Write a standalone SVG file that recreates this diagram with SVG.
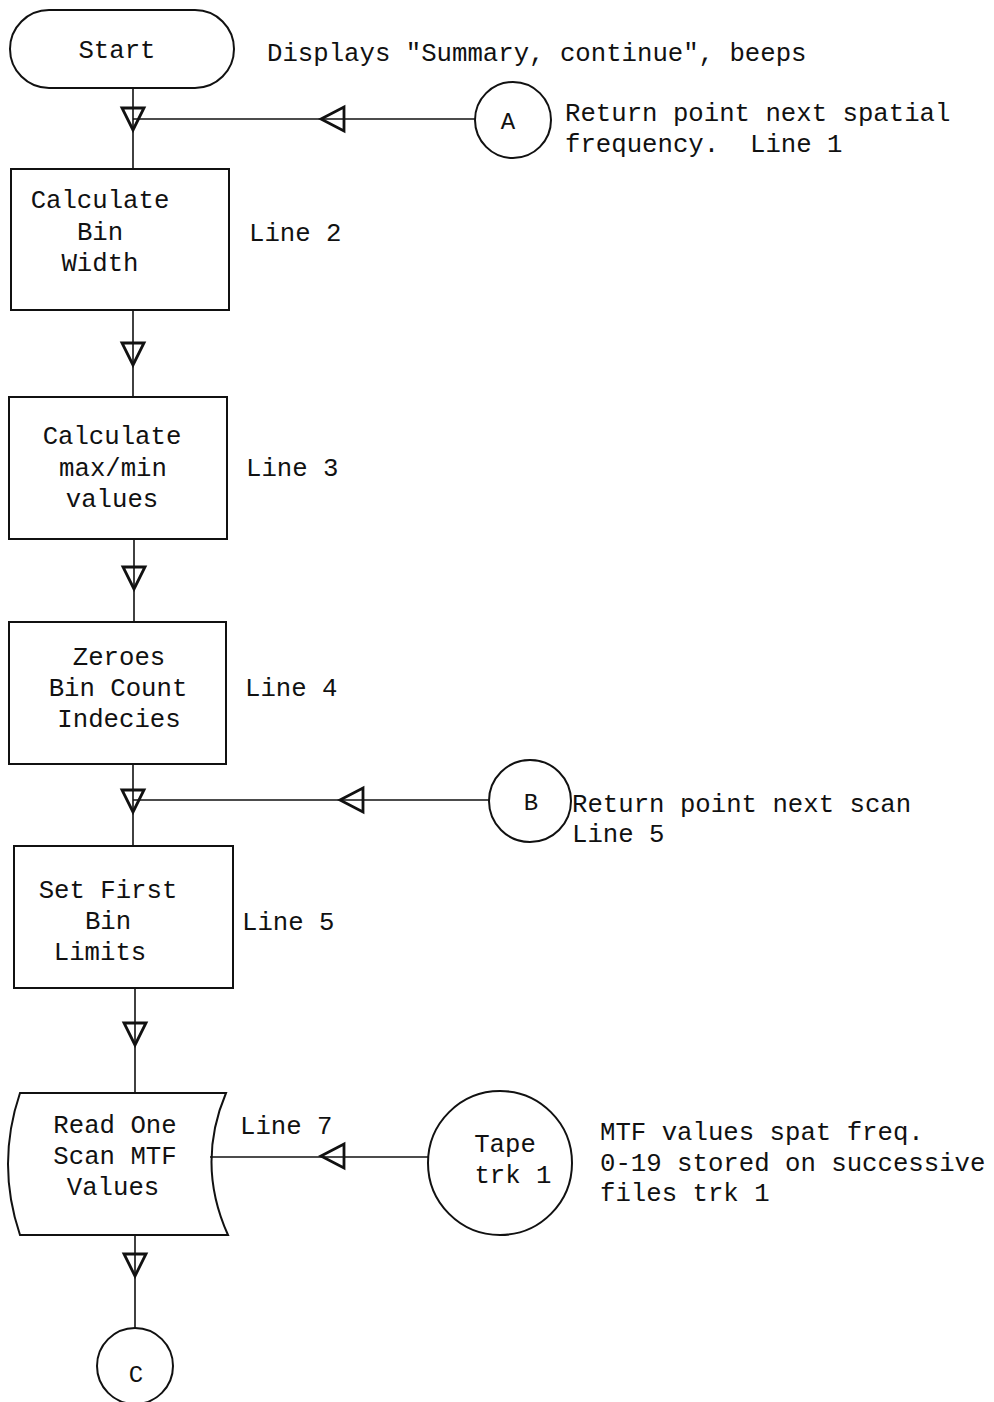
<svg xmlns="http://www.w3.org/2000/svg" xmlns:xlink="http://www.w3.org/1999/xlink" width="994" height="1402" viewBox="0 0 994 1402">
<style>
.bg{fill:#ffffff}
.node{fill:none;stroke:#111;stroke-width:2}
.conn{fill:none;stroke:#111;stroke-width:1.6}
.tri{fill:none;stroke:#111;stroke-width:2.8;stroke-linejoin:miter}
text{font-family:"Liberation Mono","DejaVu Sans Mono",monospace;font-size:25.7px;fill:#111}
.c{text-anchor:middle}
text.small{font-size:24px}
</style>
<defs>
<path id="tdown" d="M-11,0 L11,0 L0,22 Z"/>
<path id="tleft" d="M0,0 L23,-12 L23,12 Z"/>
</defs>
<rect class="bg" x="0" y="0" width="994" height="1402"/>

<g id="connectors">
<line class="conn" x1="133" y1="88" x2="133" y2="169"/>
<line class="conn" x1="133" y1="119" x2="475" y2="119"/>
<use class="tri" href="#tdown" x="133" y="108"/>
<use class="tri" href="#tleft" x="321" y="119"/>

<line class="conn" x1="133" y1="310" x2="133" y2="397"/>
<use class="tri" href="#tdown" x="133" y="343"/>

<line class="conn" x1="134" y1="539" x2="134" y2="622"/>
<use class="tri" href="#tdown" x="134" y="567"/>

<line class="conn" x1="133" y1="764" x2="133" y2="846"/>
<line class="conn" x1="133" y1="800" x2="489" y2="800"/>
<use class="tri" href="#tdown" x="133" y="790"/>
<use class="tri" href="#tleft" x="340" y="800"/>

<line class="conn" x1="135" y1="988" x2="135" y2="1092"/>
<use class="tri" href="#tdown" x="135" y="1023"/>

<line class="conn" x1="210" y1="1157" x2="429" y2="1157"/>
<use class="tri" href="#tleft" x="321" y="1156"/>

<line class="conn" x1="135" y1="1235" x2="135" y2="1328"/>
<use class="tri" href="#tdown" x="135" y="1254"/>
</g>

<g id="start">
<rect class="node" x="10" y="10" width="224" height="78" rx="39" ry="39"/>
<text class="c" x="117" y="58">Start</text>
</g>
<g id="start-note">
<text x="267" y="61">Displays "Summary, continue", beeps</text>
</g>

<g id="conn-A">
<circle class="node" cx="513" cy="120" r="38"/>
<text class="c small" x="508" y="129">A</text>
</g>
<g id="note-A">
<text x="565" y="121">Return point next spatial</text>
<text x="565" y="152" xml:space="preserve">frequency.  Line 1</text>
</g>

<g id="calc-bin-width">
<rect class="node" x="11" y="169" width="218" height="141"/>
<text class="c" x="100" y="208">Calculate</text>
<text class="c" x="100" y="240">Bin</text>
<text class="c" x="100" y="271">Width</text>
<text x="249" y="241">Line 2</text>
</g>

<g id="calc-maxmin">
<rect class="node" x="9" y="397" width="218" height="142"/>
<text class="c" x="112" y="444">Calculate</text>
<text class="c" x="113" y="476">max/min</text>
<text class="c" x="112" y="507">values</text>
<text x="246" y="476">Line 3</text>
</g>

<g id="zeroes">
<rect class="node" x="9" y="622" width="217" height="142"/>
<text class="c" x="119" y="665">Zeroes</text>
<text class="c" x="118" y="696">Bin Count</text>
<text class="c" x="119" y="727">Indecies</text>
<text x="245" y="696">Line 4</text>
</g>

<g id="conn-B">
<circle class="node" cx="530" cy="801" r="41"/>
<text class="c small" x="531" y="810">B</text>
</g>
<g id="note-B">
<text x="572" y="812">Return point next scan</text>
<text x="572" y="842">Line 5</text>
</g>

<g id="set-first">
<rect class="node" x="14" y="846" width="219" height="142"/>
<text class="c" x="108" y="898">Set First</text>
<text class="c" x="108" y="929">Bin</text>
<text class="c" x="100" y="960">Limits</text>
<text x="242" y="930">Line 5</text>
</g>

<g id="read-scan">
<path class="node" d="M20,1093 L226,1093 Q196,1164 228,1235 L20,1235 Q-4,1164 20,1093 Z"/>
<text class="c" x="115" y="1133">Read One</text>
<text class="c" x="115" y="1164">Scan MTF</text>
<text class="c" x="113" y="1195">Values</text>
<text x="240" y="1134">Line 7</text>
</g>

<g id="tape">
<circle class="node" cx="500" cy="1163" r="72"/>
<text class="c" x="505" y="1152">Tape</text>
<text class="c" x="513" y="1183">trk 1</text>
</g>
<g id="tape-note">
<text x="600" y="1140">MTF values spat freq.</text>
<text x="600" y="1171">0-19 stored on successive</text>
<text x="600" y="1201">files trk 1</text>
</g>

<g id="conn-C">
<circle class="node" cx="135" cy="1366" r="38"/>
<text class="c small" x="136" y="1382">C</text>
</g>
</svg>
